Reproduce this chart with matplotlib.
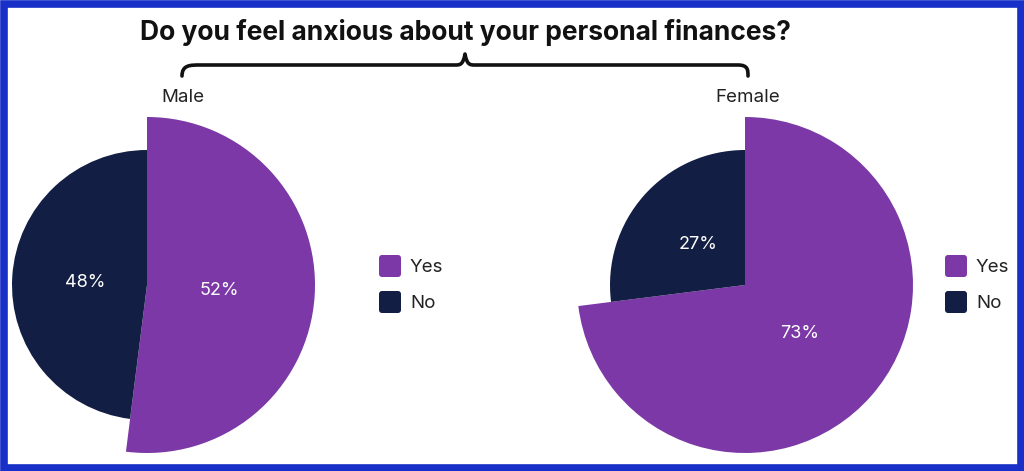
import matplotlib
matplotlib.use("Agg")
import matplotlib.pyplot as plt
import numpy as np
from matplotlib.patches import FancyBboxPatch, Rectangle, PathPatch
from matplotlib.path import Path

title = "Do you feel anxious about your personal finances?"
groups = ["Male", "Female"]
categories = ["Yes", "No"]
male_values = [52, 48]
female_values = [73, 27]
colors = ["#7b38a6", "#131e44"]

W, H = 1024, 471
fig = plt.figure(figsize=(W / 100, H / 100), dpi=100)
ax = fig.add_axes([0, 0, 1, 1])
ax.set_xlim(0, W)
ax.set_ylim(0, H)
ax.set_aspect("equal")
ax.axis("off")

FONT = "Inter"
DY = -3  # visual centering offset for text

# border
ax.add_patch(Rectangle((3.5, 3.5), W - 7, H - 7, fill=False, edgecolor="#1830c8", linewidth=5.5))

ax.text(465, H - 32, title, ha="center", va="center", fontsize=19, fontweight="bold",
        family=FONT, color="#111111")

# brace
yl = H - 65
verts = [(182, H - 76), (182, yl), (190, yl), (200, yl),
         (455, yl), (460, yl), (463, yl), (465, H - 54),
         (467, yl), (470, yl), (475, yl),
         (738, yl), (748, yl), (748, H - 70), (748, H - 76)]
codes = [Path.MOVETO, Path.CURVE4, Path.CURVE4, Path.CURVE4,
         Path.LINETO, Path.CURVE4, Path.CURVE4, Path.CURVE4,
         Path.CURVE4, Path.CURVE4, Path.CURVE4,
         Path.LINETO, Path.CURVE4, Path.CURVE4, Path.CURVE4]
ax.add_patch(PathPatch(Path(verts, codes), fill=False, edgecolor="#111111", linewidth=2.6,
                       capstyle="round", joinstyle="round"))

centers = [(147, H - 285), (745, H - 285)]
label_pos = [(183, H - 94), (748, H - 94)]
legend_x = [379, 945]
R_big, R_small = 168, 135

for g, vals, c, lp, lx in zip(groups, [male_values, female_values], centers, label_pos, legend_x):
    wedges, _ = ax.pie(vals, colors=colors, startangle=90, counterclock=False,
                       center=c, radius=R_big, frame=True,
                       wedgeprops=dict(linewidth=0))
    wedges[1].set_radius(R_small)
    for w, v, r, frac in zip(wedges, vals, [R_big, R_small], [0.43, 0.46]):
        mid = np.deg2rad((w.theta1 + w.theta2) / 2)
        ax.text(c[0] + frac * r * np.cos(mid), c[1] + frac * r * np.sin(mid) - 1, f"{v}%",
                ha="center", va="center", color="white", fontsize=13, family=FONT)
    ax.text(lp[0], lp[1] + DY, g, ha="center", va="center", fontsize=13.5, family=FONT, color="#222222")
    for i, (cat, col) in enumerate(zip(categories, colors)):
        y = H - 266 - i * 36
        ax.add_patch(FancyBboxPatch((lx + 3, y - 8), 16, 16,
                                    boxstyle="round,pad=3", facecolor=col, edgecolor="none"))
        ax.text(lx + 31, y + DY + 1, cat, ha="left", va="center", fontsize=13.5, family=FONT, color="#222222")

ax.set_xlim(0, W)
ax.set_ylim(0, H)
fig.savefig("out.png", dpi=100, facecolor="white")
